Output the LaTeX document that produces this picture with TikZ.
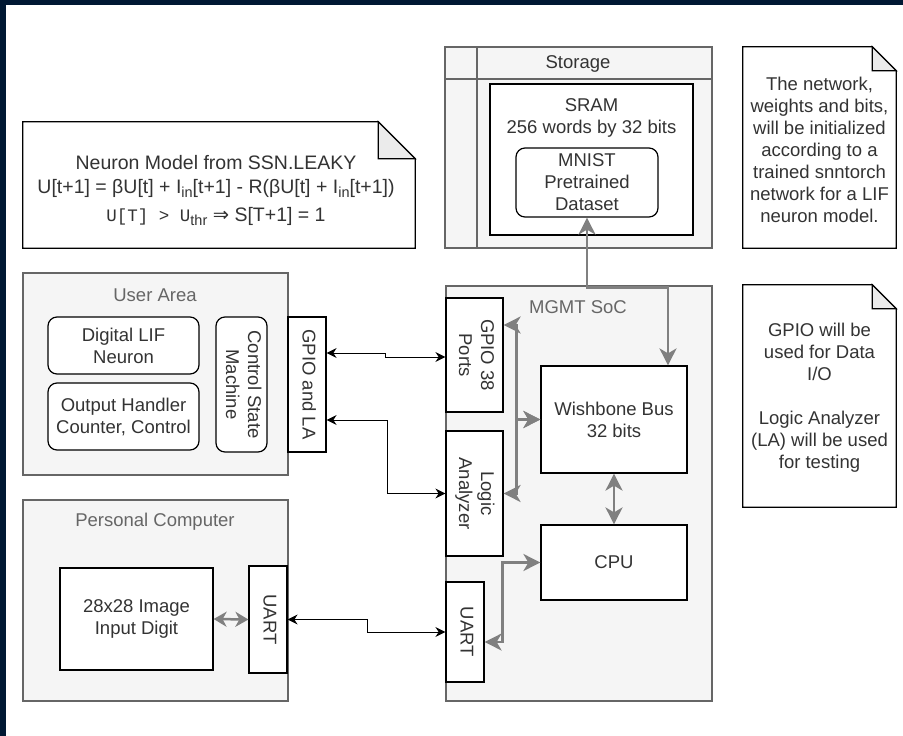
\documentclass[tikz,border=0pt]{standalone}
\usepackage{fontspec}
\setmainfont{Liberation Sans}
\setmonofont{Liberation Mono}
\newfontfamily\symfont{DejaVu Sans}
\usetikzlibrary{arrows.meta, positioning}

\definecolor{navy}{HTML}{001833}
\definecolor{panel}{HTML}{F5F5F5}
\definecolor{edge}{HTML}{666666}
\definecolor{ink}{HTML}{333333}
\definecolor{busgray}{HTML}{808080}
\definecolor{foldgray}{HTML}{EBEBEB}

\newcommand{\vtext}[1]{\rotatebox{-90}{\begin{tabular}{@{}c@{}}#1\end{tabular}}}
\newcommand{\sub}[1]{\raisebox{-4pt}{\fontsize{14.5}{14}\selectfont #1}}
\newcommand{\drawnote}[2]{%
  \filldraw[fill=white, draw=black, line width=1.2pt] (#1.north west) -- ([xshift=-#2]#1.north east)
    -- ([yshift=-#2]#1.north east) -- (#1.south east) -- (#1.south west) -- cycle;
  \filldraw[fill=foldgray, draw=black, line width=1.2pt] ([xshift=-#2]#1.north east)
    -- ([xshift=-#2,yshift=-#2]#1.north east) -- ([yshift=-#2]#1.north east) -- cycle;}

\begin{document}
\begin{tikzpicture}[x=1pt, y=-1pt,
    every node/.style={font=\fontsize{18.5}{22}\selectfont, text=ink, inner sep=0pt},
    wh/.style 2 args={minimum width=#1pt, minimum height=#2pt},
    group/.style={draw=edge, fill=panel, line width=1.2pt},
    block/.style={draw=black, fill=white, line width=1.2pt},
    roundblock/.style={block, rounded corners=9pt},
    caption/.style={text=edge},
    link/.style={black, line width=1pt, {Stealth[length=10pt,width=10pt]}-{Stealth[length=10pt,width=10pt]}},
    bus/.style={busgray, line width=2.5pt, {Stealth[length=17pt,width=17pt,inset=5pt]}-{Stealth[length=17pt,width=17pt,inset=5pt]}},
    shortbus/.style={busgray, line width=2.5pt, {Stealth[length=13pt,width=15pt,inset=4pt]}-{Stealth[length=13pt,width=15pt,inset=4pt]}}]

    \useasboundingbox (0,0) rectangle (903,736);
    \fill[white] (0,0) rectangle (903,736);
    \fill[navy] (0,0) rectangle (903,5);
    \fill[navy] (0,0) rectangle (6,736);

    % neuron model note
    \node (neuron) [wh={392}{126}] at (219,185) {};
    \drawnote{neuron}{37pt}
    \node (neuronlbl) [align=center, font=\fontsize{19.5}{24}\selectfont] at (216,190)
      {Neuron Model from SSN.LEAKY\\
       U[t+1] = βU[t] + I\sub{in}[t+1] - R(βU[t] + I\sub{in}[t+1])\\[4pt]
       {\ttfamily\fontsize{17.5}{22}\selectfont U[T] > U}\sub{thr} {\symfont ⇒} S[T+1] = 1};

    % storage
    \node (storage) [group, wh={267}{201}] at (578.5,147.5) {};
    \draw[edge, line width=1.2pt] (storage.north west |- 0,79) -- (storage.north east |- 0,79);
    \draw[edge, line width=1.2pt] (storage.north west -| 477,0) -- (storage.south west -| 477,0);
    \node (storagelbl) [text=ink] at (578,64) {Storage};
    \node (sram) [block, wh={203}{151}] at (591.5,159.5) {};
    \node (sramlbl) [align=center] at (591.5,118) {SRAM\\256 words by 32 bits};
    \node (mnist) [roundblock, wh={142}{69}, align=center] at (587,182.5) {MNIST\\Pretrained\\Dataset};

    % notes on the right
    \node (note1) [wh={153}{201}] at (819.5,147.5) {};
    \drawnote{note1}{24pt}
    \node (note1lbl) [align=center] at (819.5,150)
      {The network,\\weights and bits,\\will be initialized\\according to a\\trained snntorch\\network for a LIF\\neuron model.};
    \node (note2) [wh={153}{222}] at (819.5,396) {};
    \drawnote{note2}{24pt}
    \node (note2lbl) [align=center] at (819.5,398)
      {GPIO will be\\used for Data\\I/O\\[22pt]Logic Analyzer\\(LA) will be used\\for testing};

    % user area
    \node (user) [group, wh={265}{202}] at (155.5,374) {};
    \node (userlbl) [caption] at (155,295) {User Area};
    \node (lif) [roundblock, wh={151}{57}, align=center] at (123.5,345.5) {Digital LIF\\Neuron};
    \node (outh) [roundblock, wh={151}{67}, align=center] at (123.5,416.5) {Output Handler\\Counter, Control};
    \node (csm) [roundblock, wh={51}{135}] at (241.5,384.5) {\vtext{Control State\\Machine}};
    \node (gpiola) [block, wh={38}{135}] at (307,384.5) {\vtext{GPIO and LA}};

    % management SoC
    \node (soc) [group, wh={266}{415}] at (579,493.5) {};
    \node (soclbl) [caption] at (578,307) {MGMT SoC};
    \node (gpioports) [block, wh={57}{114}] at (474.5,355) {\vtext{GPIO 38\\Ports}};
    \node (la) [block, wh={57}{125}] at (474.5,493.5) {\vtext{Logic\\Analyzer}};
    \node (uartsoc) [block, wh={38}{100}] at (465,632) {\vtext{UART}};
    \node (wb) [block, wh={146}{107}, align=center] at (614,419.5) {Wishbone Bus\\32 bits};
    \node (cpu) [block, wh={146}{75}] at (614,562.5) {CPU};

    % personal computer
    \node (pc) [group, wh={265}{201}] at (155.5,600.5) {};
    \node (pclbl) [caption] at (155,522) {Personal Computer};
    \node (img) [block, wh={153}{102}, align=center] at (136.5,619) {28x28 Image\\Input Digit};
    \node (uartpc) [block, wh={38}{107}] at (268,619.5) {\vtext{UART}};

    % connections
    \draw[link] ([yshift=2pt]gpiola.east |- gpioports.west) -- ++(59,0) |- ([yshift=-2pt]gpioports.west);
    \draw[link] ([yshift=-35.5pt]gpiola.east) -- ++(61,0) |- (la.west);
    \draw[link] (uartpc.east) -- ++(80,0) |- (uartsoc.west);

    \draw[bus] (mnist.south) -- ++(0,70) -| ([xshift=54pt]wb.north);
    \draw[bus] (wb.south) -- (cpu.north);
    \draw[bus] ([yshift=30pt]gpioports.east) -- ++(13,0) |- (wb.west);
    \draw[bus] (la.east) -- ++(13,0) |- (wb.west);
    \draw[bus] (cpu.west) -- ++(-38,0) |- ([yshift=-10pt]uartsoc.east);
    \draw[shortbus] (img.east) -- (uartpc.west);
\end{tikzpicture}
\end{document}
